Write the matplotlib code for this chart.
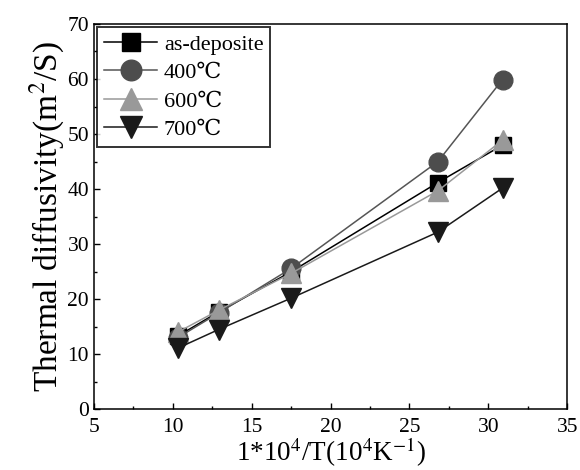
import matplotlib
matplotlib.use("Agg")
import matplotlib.pyplot as plt
from matplotlib.ticker import MultipleLocator

# data
inv_t = [10.3, 12.9, 17.5, 26.8, 30.9]
as_deposite = [13.3, 17.7, 25.0, 41.2, 48.0]
t400 = [13.0, 17.5, 25.6, 45.0, 59.9]
t600 = [14.0, 18.0, 24.7, 39.7, 48.9]
t700 = [11.1, 14.5, 20.2, 32.2, 40.2]
labels = ["as-deposite", "400\u2103", "600\u2103", "700\u2103"]

plt.rcParams["font.family"] = ["Liberation Serif", "DejaVu Serif"]
plt.rcParams["mathtext.fontset"] = "stix"

fig = plt.figure(figsize=(5.8, 4.7), dpi=100)
ax = fig.add_axes([0.162, 0.129, 0.816, 0.82])

series = [
    (as_deposite, "s", "black", "black", 11.5),
    (t400, "o", "#4d4d4d", "#555555", 13.5),
    (t600, "^", "#999999", "#999999", 14.5),
    (t700, "v", "#1a1a1a", "#1a1a1a", 14.5),
]
for (vals, mk, mcol, lcol, ms), lab in zip(series, labels):
    ax.plot(inv_t, vals, marker=mk, color=lcol, markerfacecolor=mcol,
            markeredgecolor=mcol, markersize=ms, linewidth=1.1, label=lab)

ax.set_xlim(5, 35)
ax.set_ylim(0, 70)
ax.xaxis.set_major_locator(MultipleLocator(5))
ax.xaxis.set_minor_locator(MultipleLocator(2.5))
ax.yaxis.set_major_locator(MultipleLocator(10))
ax.yaxis.set_minor_locator(MultipleLocator(5))
ax.tick_params(which="both", direction="in", top=False, right=False,
               labelsize=15.5, width=1)
ax.tick_params(which="major", length=4.5)
ax.tick_params(which="minor", length=2.3)
ax.tick_params(axis="x", pad=6)
for sp in ax.spines.values():
    sp.set_linewidth(1.1)

ax.set_xlabel("1*10$^4$/T(10$^4$K$^{-1}$)", fontsize=19.5, labelpad=-1)
ax.set_ylabel("Thermal diffusivity(m$^2$/S)", fontsize=24, labelpad=0)

leg = ax.legend(loc="upper left", fontsize=16, frameon=True, fancybox=False,
                borderaxespad=0.15, handlelength=2.4, labelspacing=0.36,
                borderpad=0.3, handletextpad=0.3, markerscale=1.1)
leg.get_frame().set_edgecolor("black")
leg.get_frame().set_linewidth(1.4)

fig.savefig("out.png", dpi=100)
